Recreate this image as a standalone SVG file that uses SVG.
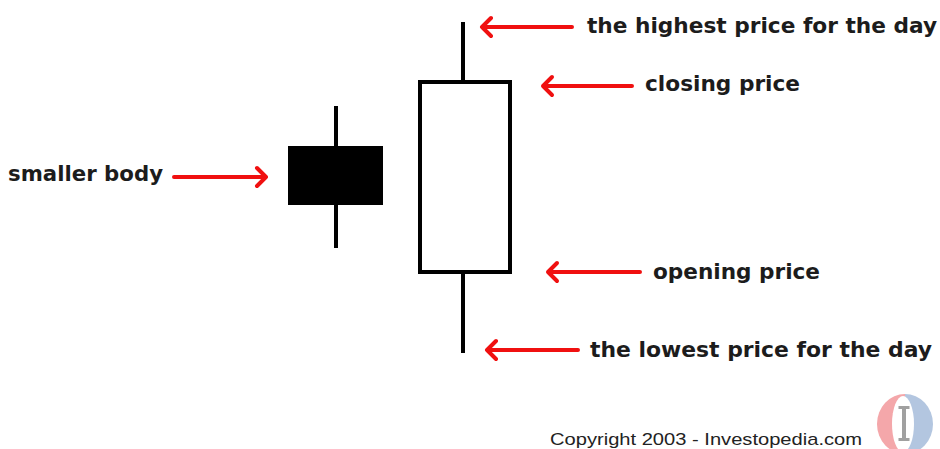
<svg xmlns="http://www.w3.org/2000/svg" width="940" height="449" viewBox="0 0 940 449">
<style>
.lbl{font-family:"DejaVu Sans",Verdana,sans-serif;font-weight:bold;font-size:21px;fill:#1c1c1c}
.copy{font-family:"Liberation Sans",Arial,sans-serif;font-size:17px;fill:#222}
.arr{fill:none;stroke:#f01010;stroke-width:4;stroke-linecap:round;stroke-linejoin:round}
.wick{stroke:#000;stroke-width:4}
</style>
<rect width="940" height="449" fill="#fff"/>
<g id="small-candle">
<line class="wick" x1="336" y1="106" x2="336" y2="248"/>
<rect x="288" y="146" width="95" height="59" fill="#000"/>
</g>
<g id="big-candle">
<line class="wick" x1="463" y1="22" x2="463" y2="82"/>
<line class="wick" x1="463" y1="272" x2="463" y2="353"/>
<rect x="420" y="82" width="90" height="190" fill="#fff" stroke="#000" stroke-width="4"/>
</g>
<g id="connectors">
<path class="arr" d="M174 177H266M257 168L266 177L257 186"/>
<path class="arr" d="M572 27H482M491 18L482 27L491 36"/>
<path class="arr" d="M632 86H543M552 77L543 86L552 95"/>
<path class="arr" d="M640 272H548M557 263L548 272L557 281"/>
<path class="arr" d="M578 350H487M496 341L487 350L496 359"/>
</g>
<g id="labels">
<text class="lbl" x="8" y="181" textLength="155" lengthAdjust="spacingAndGlyphs">smaller body</text>
<text class="lbl" x="587" y="33" textLength="350" lengthAdjust="spacingAndGlyphs">the highest price for the day</text>
<text class="lbl" x="645" y="91" textLength="155" lengthAdjust="spacingAndGlyphs">closing price</text>
<text class="lbl" x="653" y="279" textLength="167" lengthAdjust="spacingAndGlyphs">opening price</text>
<text class="lbl" x="590" y="357" textLength="342" lengthAdjust="spacingAndGlyphs">the lowest price for the day</text>
<text class="copy" x="550" y="445" textLength="312" lengthAdjust="spacingAndGlyphs">Copyright 2003 - Investopedia.com</text>
</g>
<g id="logo">
<path d="M905 394 A28 30 0 0 0 905 454Z" fill="#f4a7aa"/>
<path d="M905 394 A28 30 0 0 1 905 454Z" fill="#b3c6e0"/>
<ellipse cx="903" cy="424" rx="11" ry="28" fill="#fff"/>
<rect x="902" y="408" width="4" height="31" fill="#a0a0a0"/>
<rect x="898.5" y="406" width="11" height="3" fill="#a0a0a0"/>
<rect x="898.5" y="438" width="11" height="3" fill="#a0a0a0"/>
</g>
</svg>
